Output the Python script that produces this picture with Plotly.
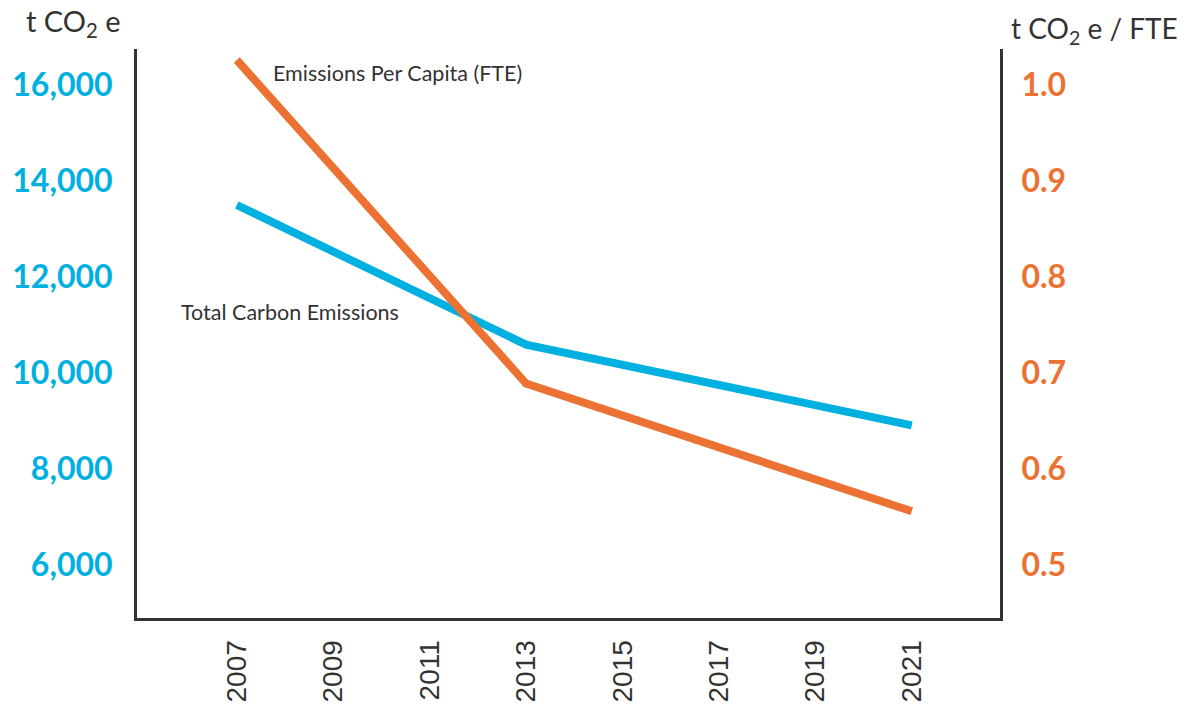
import plotly.graph_objects as go

years = [2007, 2013, 2021]
total_emissions = [13500, 10590, 8910]
per_capita = [1.026, 0.689, 0.556]

x_ticks = [2007, 2009, 2011, 2013, 2015, 2017, 2019, 2021]
left_ticks = [6000, 8000, 10000, 12000, 14000, 16000]
left_labels = ["6,000", "8,000", "10,000", "12,000", "14,000", "16,000"]
right_ticks = [0.5, 0.6, 0.7, 0.8, 0.9, 1.0]
right_labels = ["0.5", "0.6", "0.7", "0.8", "0.9", "1.0"]

BLUE = "#00B0E0"
ORANGE = "#EB7233"
DARK = "#333333"

fig = go.Figure()
fig.add_trace(go.Scatter(x=years, y=total_emissions, mode="lines",
                         line=dict(color=BLUE, width=8), yaxis="y",
                         name="Total Carbon Emissions", showlegend=False))
fig.add_trace(go.Scatter(x=years, y=per_capita, mode="lines",
                         line=dict(color=ORANGE, width=8), yaxis="y2",
                         name="Emissions Per Capita (FTE)", showlegend=False))

fig.update_layout(
    width=1199, height=711,
    margin=dict(l=137, r=199, t=49, b=93),
    paper_bgcolor="white", plot_bgcolor="white",
    xaxis=dict(range=[2004.93, 2022.83], tickvals=x_ticks,
               ticktext=[str(v) for v in x_ticks], tickangle=-90,
               showgrid=False, zeroline=False, showline=True,
               linecolor=DARK, linewidth=3, ticks="", automargin=False,
               ticklabelstandoff=8,
               tickfont=dict(family="Liberation Sans, Arial", size=28, color=DARK)),
    yaxis=dict(range=[4896, 16750], tickvals=left_ticks, ticktext=left_labels,
               showgrid=False, zeroline=False, showline=True,
               linecolor=DARK, linewidth=3, ticks="", automargin=False,
               ticklabelstandoff=15,
               tickfont=dict(family="Lato", size=32, color=BLUE, weight="bold")),
    yaxis2=dict(range=[0.4448, 1.0375], tickvals=right_ticks, ticktext=right_labels,
                overlaying="y", side="right",
                showgrid=False, zeroline=False, showline=True,
                linecolor=DARK, linewidth=3, ticks="", automargin=False,
                ticklabelstandoff=12,
                tickfont=dict(family="Lato", size=32, color=ORANGE, weight="bold")),
    annotations=[
        dict(text="t CO<sub>2</sub> e", xref="paper", yref="paper",
             x=(24 - 137)/863, y=1 + (49 - 22)/569, xanchor="left", yanchor="middle",
             showarrow=False, font=dict(family="Lato", size=29, color=DARK)),
        dict(text="t CO<sub>2</sub> e / FTE", xref="paper", yref="paper",
             x=(1009 - 137)/863, y=1 + (49 - 30)/569, xanchor="left", yanchor="middle",
             showarrow=False, font=dict(family="Lato", size=28, color=DARK)),
        dict(text="Emissions Per Capita (FTE)", xref="paper", yref="paper",
             x=(271 - 137)/863, y=1 - (73 - 49)/569, xanchor="left", yanchor="middle",
             showarrow=False, font=dict(family="Lato", size=21.5, color=DARK)),
        dict(text="Total Carbon Emissions", xref="paper", yref="paper",
             x=(179 - 137)/863, y=1 - (312 - 49)/569, xanchor="left", yanchor="middle",
             showarrow=False, font=dict(family="Lato", size=21.5, color=DARK)),
    ],
)

fig.write_html("out.html")
